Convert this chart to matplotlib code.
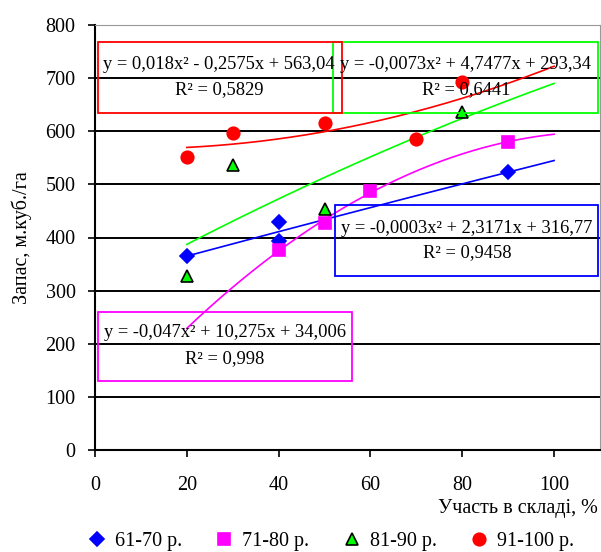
import numpy as np
import matplotlib.pyplot as plt
from matplotlib.patches import Rectangle

plt.rcParams['font.family'] = ['Liberation Serif', 'DejaVu Serif']

# data
x_61_70 = [20, 40, 40, 90]
y_61_70 = [365, 429, 393, 523]
x_71_80 = [40, 50, 60, 90]
y_71_80 = [377, 428, 488, 580]
x_81_90 = [20, 30, 50, 80]
y_81_90 = [328, 537, 454, 636]
x_91_100 = [20, 30, 50, 70, 80]
y_91_100 = [552, 597, 616, 586, 693]

labels = ['61-70 р.', '71-80 р.', '81-90 р.', '91-100 р.']
eq_texts = [
    ('y = -0,0003x² + 2,3171x + 316,77', 'R² = 0,9458'),
    ('y = -0,047x² + 10,275x + 34,006', 'R² = 0,998'),
    ('y = -0,0073x² + 4,7477x + 293,34', 'R² = 0,6441'),
    ('y = 0,018x² - 0,2575x + 563,04', 'R² = 0,5829'),
]

fig = plt.figure(figsize=(6.01, 5.52), dpi=100)
ax = fig.add_axes([95 / 601, 102 / 552, 505 / 601, 425 / 552])

series = [
    (x_61_70, y_61_70, 'blue', 'D', 7, 'blue'),
    (x_71_80, y_71_80, 'magenta', 's', 8, 'magenta'),
    (x_81_90, y_81_90, '#00ff00', '^', 9, 'black'),
    (x_91_100, y_91_100, 'red', 'o', 9, 'red'),
]

xs = np.linspace(20, 100, 200)
handles = []
for (sx, sy, col, mk, ms, ec), lab in zip(series, labels):
    # quadratic trendline fitted to the points
    coef = np.polyfit(sx, sy, 2)
    ax.plot(xs, np.polyval(coef, xs), color=col, lw=1.2, zorder=3)
    h, = ax.plot(sx, sy, linestyle='none', marker=mk, ms=ms, color=col,
                 markeredgecolor=ec, markeredgewidth=1.2, label=lab, zorder=4)
    handles.append(h)

# equation boxes
boxes = [
    ((52.3, 328), 57.3, 133, 'blue', 81.0, 417, 371),
    ((0.65, 130), 55.3, 130, 'magenta', 28.3, 221, 173),
    ((51.9, 635), 57.7, 133, '#00ff00', 80.8, 725, 678),
    ((0.65, 635), 53.2, 133, 'red', 27.0, 725, 678),
]
for (xy, w, hgt, col, tx, ty1, ty2), (eq, r2) in zip(boxes, eq_texts):
    ax.add_patch(Rectangle(xy, w, hgt, fill=False, edgecolor=col, lw=1.3,
                           zorder=5, clip_on=False))
    ax.text(tx, ty1, eq, ha='center', va='center', fontsize=13.3, zorder=6)
    ax.text(tx, ty2, r2, ha='center', va='center', fontsize=13.3, zorder=6)

ax.set_xlim(0, 110)
ax.set_ylim(0, 800)
ax.set_xticks(range(0, 101, 20))
ax.set_yticks(range(0, 801, 100))
ax.tick_params(labelsize=14.5, length=5, width=1.2, direction='out')
ax.tick_params(axis='x', pad=14)
ax.tick_params(axis='y', pad=9)
ax.yaxis.grid(True, color='black', lw=1.4)
ax.set_axisbelow(True)
for s in ['left', 'bottom']:
    ax.spines[s].set_linewidth(1.5)
for s in ['top', 'right']:
    ax.spines[s].set_color('#999999')

ax.set_ylabel('Запас, м.куб./га', fontsize=14.5)
ax.yaxis.set_label_coords(-0.124, 0.5)
fig.text(598 / 601, 1 - 508 / 552, 'Участь в складі, %', ha='right',
         va='center', fontsize=14.5)

fig.legend(handles=handles, loc='center', bbox_to_anchor=(0.55, 1 - 541 / 552),
           ncol=4, frameon=False, fontsize=14.5, handlelength=1.0,
           handletextpad=0.4, columnspacing=1.6)

fig.savefig('out.png', dpi=100)
